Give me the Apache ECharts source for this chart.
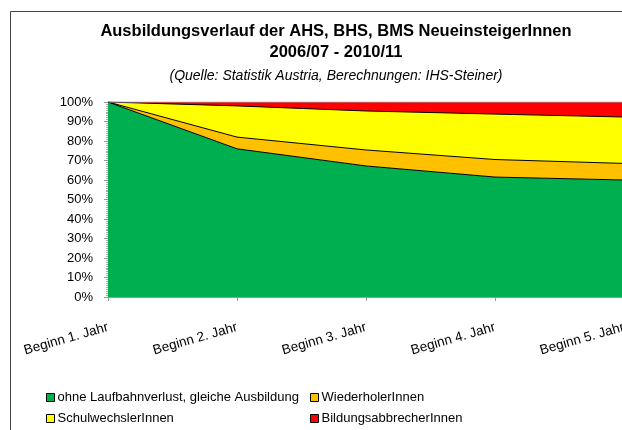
<!DOCTYPE html>
<html>
<head>
<meta charset="utf-8">
<script src="https://cdn.jsdelivr.net/npm/echarts@6/dist/echarts.min.js"></script>
<style>
  html, body { margin: 0; padding: 0; background: #fff; }
  #chart { width: 622px; height: 430px; }
</style>
</head>
<body>
<div id="chart"></div>
<script>
// Kategorien (x-Achse)
const categories = ['Beginn 1. Jahr', 'Beginn 2. Jahr', 'Beginn 3. Jahr', 'Beginn 4. Jahr', 'Beginn 5. Jahr'];

// Anteile in Prozent, gestapelt von unten nach oben
const ohneVerlust = [100, 76, 67.2, 61.5, 60];
const wiederholer = [0, 6, 8.2, 9, 8.5];
const schulwechsler = [0, 16, 20, 23.3, 23.8];
const abbrecher = [0, 2, 4.6, 6.2, 7.7];

const seriesNames = [
  'ohne Laufbahnverlust, gleiche Ausbildung',
  'WiederholerInnen',
  'SchulwechslerInnen',
  'BildungsabbrecherInnen'
];

const font = '"Liberation Sans", Arial, sans-serif';

const chart = echarts.init(document.getElementById('chart'));

function areaSeries(name, data, color, lineColor) {
  return {
    name: name,
    type: 'line',
    stack: 'gesamt',
    data: data,
    showSymbol: false,
    symbol: 'none',
    itemStyle: { color: color },
    lineStyle: { color: lineColor, width: 1 },
    areaStyle: { color: color, opacity: 1 },
    emphasis: { disabled: true }
  };
}

function legendColumn(names, left) {
  return {
    data: names,
    orient: 'vertical',
    left: left,
    top: 391,
    height: 60,
    padding: 0,
    itemGap: 8,
    itemWidth: 8,
    itemHeight: 8,
    icon: 'rect',
    itemStyle: { borderColor: '#000', borderWidth: 1 },
    textStyle: { fontFamily: font, fontSize: 13, color: '#000', padding: [0, 0, 0, -2] }
  };
}

const option = {
  animation: false,
  textStyle: { fontFamily: font },
  title: {
    text: 'Ausbildungsverlauf der AHS, BHS, BMS NeueinsteigerInnen\n2006/07 - 2010/11',
    subtext: '(Quelle: Statistik Austria, Berechnungen: IHS-Steiner)',
    left: 331,
    top: 16,
    textAlign: 'center',
    itemGap: 6,
    textStyle: { fontFamily: font, fontSize: 16.5, fontWeight: 'bold', color: '#000', lineHeight: 21 },
    subtextStyle: { fontFamily: font, fontSize: 14, fontStyle: 'italic', color: '#000' }
  },
  graphic: [{
    type: 'rect',
    shape: { x: 10.5, y: 11.5, width: 700, height: 500 },
    style: { fill: 'none', stroke: '#444', lineWidth: 1 },
    silent: true
  }],
  legend: [
    legendColumn([seriesNames[0], seriesNames[2]], 46),
    legendColumn([seriesNames[1], seriesNames[3]], 310)
  ],
  grid: { left: 108, top: 102, width: 516, height: 195, containLabel: false, outerBoundsMode: 'none' },
  xAxis: {
    type: 'category',
    data: categories,
    boundaryGap: false,
    axisLine: { lineStyle: { color: '#999', width: 1 } },
    axisTick: { show: true, length: 4, lineStyle: { color: '#999' } },
    axisLabel: { rotate: 16, margin: 30, fontSize: 13.5, color: '#000', fontFamily: font, hideOverlap: false }
  },
  yAxis: {
    type: 'value',
    min: 0,
    max: 100,
    interval: 10,
    axisLine: { show: true, lineStyle: { color: '#999', width: 1 } },
    axisTick: { show: true, length: 4, lineStyle: { color: '#999' } },
    minorTick: { show: true, splitNumber: 10, length: 2, lineStyle: { color: '#aaa' } },
    splitLine: { show: false },
    axisLabel: { formatter: '{value}%', margin: 15, fontSize: 13, color: '#000', fontFamily: font }
  },
  series: [
    areaSeries(seriesNames[0], ohneVerlust, '#00B050', '#000'),
    areaSeries(seriesNames[1], wiederholer, '#FFC000', '#000'),
    areaSeries(seriesNames[2], schulwechsler, '#FFFF00', '#000'),
    areaSeries(seriesNames[3], abbrecher, '#FF0000', '#999')
  ]
};

chart.setOption(option);
</script>
</body>
</html>
